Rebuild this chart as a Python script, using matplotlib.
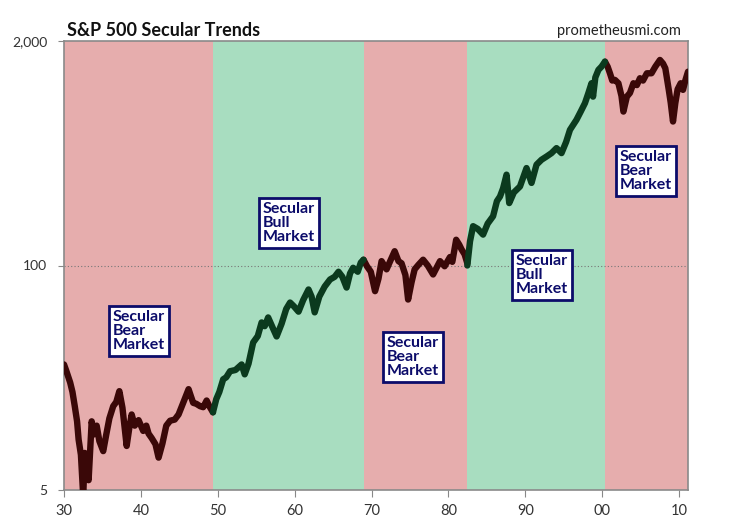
import numpy as np
import matplotlib.pyplot as plt
from matplotlib.ticker import FixedLocator, FixedFormatter

plt.rcParams['font.family'] = ['Lato', 'DejaVu Sans']

# S&P 500 level (year, index)
bear1_years = [1930.0, 1930.3, 1930.8, 1931.1, 1931.4, 1931.7, 1931.9, 1932.2, 1932.5, 1932.7,
               1932.95, 1933.2, 1933.6, 1933.9, 1934.25, 1934.6, 1935.1, 1935.5, 1935.9, 1936.4,
               1936.8, 1937.2, 1937.6, 1938.15, 1938.5, 1938.8, 1939.2, 1939.7, 1940.3, 1940.7,
               1941.0, 1941.4, 1941.9, 1942.3, 1942.8, 1943.3, 1943.8, 1944.4, 1944.9, 1945.5,
               1946.2, 1946.5, 1946.8, 1947.2, 1947.7, 1948.1, 1948.55, 1948.9, 1949.37]
bear1_vals = [26.7, 24.5, 21.0, 18.5, 15.3, 12.5, 9.8, 8.0, 4.6, 8.2,
              7.2, 5.7, 12.5, 10.5, 11.8, 9.6, 8.4, 10.5, 13.0, 15.3,
              16.2, 18.7, 15.0, 9.0, 11.5, 13.7, 11.8, 12.7, 11.0, 11.8,
              10.6, 10.0, 9.2, 7.7, 9.3, 11.8, 12.6, 12.8, 13.7, 16.0,
              19.2, 17.5, 16.0, 15.8, 15.3, 15.1, 16.5, 15.3, 14.1]

bull1_years = [1949.37, 1949.8, 1950.2, 1950.7, 1951.1, 1951.6, 1952.3, 1953.1, 1953.5, 1954.0,
               1954.6, 1955.2, 1955.7, 1956.1, 1956.55, 1957.1, 1957.65, 1958.3, 1958.9, 1959.4,
               1959.9, 1960.5, 1961.1, 1961.8, 1962.2, 1962.6, 1963.2, 1963.9, 1964.6, 1965.2,
               1965.7, 1966.2, 1966.75, 1967.2, 1967.6, 1968.2, 1968.6, 1968.95]
bull1_vals = [14.1, 16.8, 18.5, 21.9, 22.5, 24.4, 24.8, 26.7, 23.4, 27.0,
              35.8, 39.0, 46.8, 44.5, 50.0, 44.0, 38.8, 46.0, 56.0, 61.0,
              58.0, 54.0, 63.0, 72.6, 66.0, 53.5, 66.0, 75.5, 83.0, 86.0,
              92.0, 86.0, 74.5, 90.0, 97.0, 92.0, 104.0, 108.0]

bear2_years = [1968.95, 1969.4, 1969.9, 1970.45, 1970.9, 1971.3, 1971.95, 1972.5, 1973.0, 1973.5,
               1973.9, 1974.4, 1974.75, 1975.2, 1975.6, 1976.1, 1976.7, 1977.3, 1978.0, 1978.5,
               1978.9, 1979.5, 1980.2, 1980.5, 1981.0, 1981.4, 1981.7, 1982.1, 1982.45]
bear2_vals = [108.0, 99.0, 92.0, 71.0, 84.0, 106.0, 95.0, 108.0, 121.0, 106.0,
              103.0, 88.0, 63.5, 80.0, 95.0, 101.0, 108.0, 100.0, 88.7, 98.0,
              106.0, 99.0, 112.0, 105.0, 141.0, 132.0, 124.0, 116.0, 103.0]

bull2_years = [1982.45, 1982.8, 1983.2, 1983.8, 1984.5, 1985.1, 1985.8, 1986.3, 1986.7, 1987.1,
               1987.55, 1987.9, 1988.5, 1989.3, 1990.15, 1990.8, 1991.45, 1992.1, 1992.75, 1993.4,
               1994.05, 1994.7, 1995.3, 1995.8, 1996.65, 1997.2, 1997.75, 1998.2, 1998.6, 1998.8,
               1999.1, 1999.5, 1999.9, 2000.35]
bull2_vals = [100.0, 138.0, 169.0, 163.0, 151.0, 175.0, 193.0, 236.0, 251.0, 280.0,
              336.0, 230.0, 265.0, 287.0, 367.0, 301.0, 384.0, 410.0, 428.0, 448.0,
              479.0, 448.0, 520.0, 611.0, 699.0, 780.0, 873.0, 1000.0, 1138.0, 952.0,
              1230.0, 1360.0, 1420.0, 1518.0]

bear3_years = [2000.35, 2000.7, 2001.0, 2001.3, 2001.65, 2002.1, 2002.5, 2002.75, 2003.2, 2003.6,
               2004.05, 2004.5, 2004.9, 2005.3, 2005.8, 2006.4, 2006.9, 2007.5, 2007.9, 2008.2,
               2008.65, 2008.9, 2009.2, 2009.5, 2009.8, 2010.2, 2010.5, 2010.8, 2011.15]
bear3_vals = [1518.0, 1420.0, 1300.0, 1180.0, 1190.0, 1138.0, 960.0, 780.0, 952.0, 1000.0,
              1138.0, 1110.0, 1217.0, 1180.0, 1300.0, 1300.0, 1420.0, 1553.0, 1480.0, 1390.0,
              1042.0, 880.0, 683.0, 873.0, 1050.0, 1138.0, 1042.0, 1180.0, 1328.0]

bear_segments = [(bear1_years, bear1_vals), (bear2_years, bear2_vals), (bear3_years, bear3_vals)]
bull_segments = [(bull1_years, bull1_vals), (bull2_years, bull2_vals)]

# era boundaries
bounds = [1930.0, 1949.37, 1968.95, 1982.45, 2000.35, 2011.15]
era_kind = ["bear", "bull", "bear", "bull", "bear"]

x_ticks = [1930, 1940, 1950, 1960, 1970, 1980, 1990, 2000, 2010]
x_labels = ["30", "40", "50", "60", "70", "80", "90", "00", "10"]
y_ticks = [5, 100, 2000]
y_labels = ["5", "100", "2,000"]

# label positions in axes fraction
labels = [("Secular\nBear\nMarket", 0.120, 0.354),
          ("Secular\nBull\nMarket", 0.360, 0.595),
          ("Secular\nBear\nMarket", 0.559, 0.297),
          ("Secular\nBull\nMarket", 0.766, 0.479),
          ("Secular\nBear\nMarket", 0.932, 0.710)]

bg = {"bear": "#e6adad", "bull": "#a8ddc0"}
line_col = {"bear": "#3a0808", "bull": "#0b3a1e"}
navy = "#0c0c6a"

fig = plt.figure(figsize=(7.5, 5.3), dpi=100)
ax = fig.add_axes([64 / 750, 40 / 530, 624 / 750, 449 / 530])

for i, kind in enumerate(era_kind):
    ax.axvspan(bounds[i], bounds[i + 1], color=bg[kind], lw=0, zorder=0)

ax.axhline(100, color="#777777", lw=0.8, ls=(0, (1, 2)), zorder=1)

for yrs, vals in bear_segments:
    ax.plot(yrs, vals, color=line_col["bear"], lw=4.6, solid_joinstyle="round",
            solid_capstyle="round", zorder=3)
for yrs, vals in bull_segments:
    ax.plot(yrs, vals, color=line_col["bull"], lw=4.6, solid_joinstyle="round",
            solid_capstyle="round", zorder=3)

ax.set_yscale("log")
ax.set_xlim(bounds[0], bounds[-1])
ax.set_ylim(5, 2000)
ax.xaxis.set_major_locator(FixedLocator(x_ticks))
ax.xaxis.set_major_formatter(FixedFormatter(x_labels))
ax.yaxis.set_major_locator(FixedLocator(y_ticks))
ax.yaxis.set_major_formatter(FixedFormatter(y_labels))
ax.yaxis.set_minor_locator(FixedLocator([]))
ax.tick_params(axis="x", length=5, color="#888888", labelsize=10.5, labelcolor="#333333", pad=5)
ax.tick_params(axis="y", length=4, color="#888888", labelsize=10, labelcolor="#333333", pad=8)
for sp in ax.spines.values():
    sp.set_color("#8a8a8a")
    sp.set_linewidth(1.2)

for txt, x, y in labels:
    ax.text(x, y, txt, transform=ax.transAxes, ha="center", va="center",
            multialignment="left", fontsize=11.5, fontweight="bold", color=navy,
            linespacing=1.0, zorder=5,
            bbox=dict(boxstyle="square,pad=0.25", fc="white", ec=navy, lw=2))

fig.text(67 / 750, 1 - 30 / 530, "S&P 500 Secular Trends", fontsize=13, fontweight="bold",
         color="#111111", ha="left", va="center")
fig.text(681 / 750, 1 - 31 / 530, "prometheusmi.com", fontsize=10.5, color="#222222",
         ha="right", va="center")

plt.savefig("out.png", dpi=100)
